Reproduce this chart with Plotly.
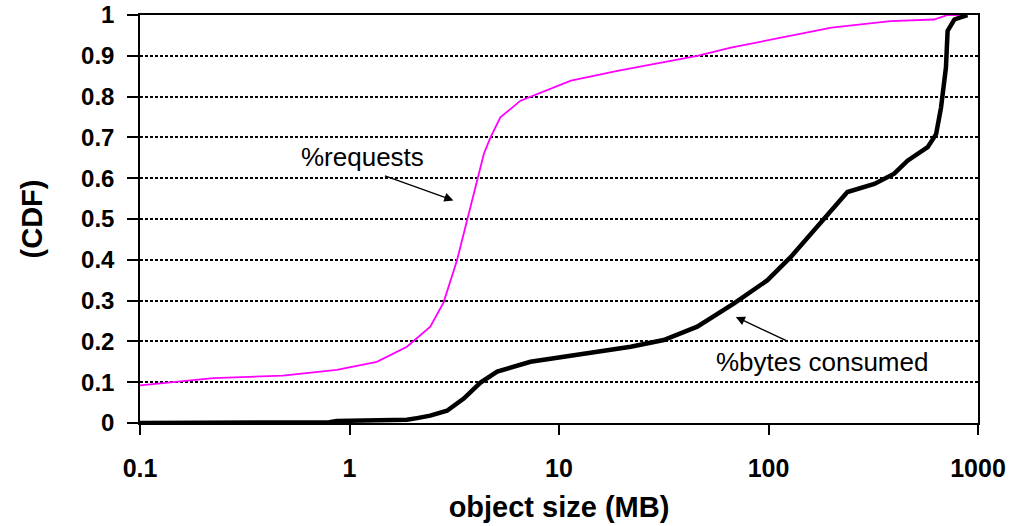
import plotly.graph_objects as go

# Data
req_x = [0.1, 0.224, 0.48, 0.87, 1.35, 1.88, 2.43, 2.81, 3.26, 3.64, 4.07, 4.38, 4.71,
         5.25, 6.55, 7.87, 11.4, 19.0, 31.7, 45.7, 66.1, 97.5, 200, 381, 617, 716, 890]
req_y = [0.092, 0.11, 0.116, 0.13, 0.15, 0.187, 0.236, 0.295, 0.399, 0.497, 0.60, 0.66, 0.70,
         0.749, 0.79, 0.806, 0.839, 0.863, 0.884, 0.90, 0.92, 0.937, 0.969, 0.985, 0.989, 1.0, 1.0]

bytes_x = [0.1, 0.8, 0.87, 1.88, 2.1, 2.43, 2.92, 3.2, 3.51, 4.22, 5.07, 7.31, 10.5, 15.2, 22.0,
           31.6, 45.7, 68.5, 98.9, 127.8, 165, 206, 238, 320, 398, 461, 575, 631, 666, 703,
           716, 771, 890]
bytes_y = [0.0, 0.002, 0.005, 0.008, 0.012, 0.018, 0.03, 0.045, 0.06, 0.099, 0.126, 0.15, 0.163,
           0.175, 0.187, 0.2035, 0.236, 0.293, 0.35, 0.407, 0.472, 0.529, 0.566, 0.586, 0.611,
           0.643, 0.676, 0.708, 0.773, 0.871, 0.961, 0.989, 1.0]

x_tickvals = [0.1, 1, 10, 100, 1000]
x_ticktext = ["0.1", "1", "10", "100", "1000"]
y_tickvals = [0, 0.1, 0.2, 0.3, 0.4, 0.5, 0.6, 0.7, 0.8, 0.9, 1]
y_ticktext = ["0", "0.1", "0.2", "0.3", "0.4", "0.5", "0.6", "0.7", "0.8", "0.9", "1"]

FONT = "Liberation Sans, Arial, sans-serif"

fig = go.Figure()
fig.add_trace(go.Scatter(x=req_x, y=req_y, mode="lines",
                         line=dict(color="#FF00FF", width=1.8), showlegend=False))
fig.add_trace(go.Scatter(x=bytes_x, y=bytes_y, mode="lines",
                         line=dict(color="black", width=4.5), showlegend=False))

fig.update_layout(
    width=1027, height=526,
    margin=dict(l=140, r=49, t=15, b=103),
    paper_bgcolor="white", plot_bgcolor="white",
    font=dict(family=FONT, color="black"),
)
fig.update_xaxes(
    type="log", range=[-1, 3],
    tickvals=x_tickvals, ticktext=x_ticktext,
    tickfont=dict(size=25, family=FONT, color="black", weight="bold"),
    ticks="outside", ticklen=10, tickwidth=1.5, tickcolor="black",
    ticklabelstandoff=12, ticklabeloverflow="allow",
    showline=True, linecolor="black", linewidth=1.5, mirror=True,
    showgrid=False, zeroline=False, automargin=False,
    title=dict(text="<b>object size (MB)</b>", font=dict(size=29, family=FONT), standoff=16),
)
fig.update_yaxes(
    range=[0, 1],
    tickvals=y_tickvals, ticktext=y_ticktext,
    tickfont=dict(size=24, family=FONT, color="black", weight="bold"),
    ticks="outside", ticklen=11, tickwidth=1.5, tickcolor="black",
    ticklabelstandoff=8, ticklabeloverflow="allow",
    showline=True, linecolor="black", linewidth=1.5, mirror=True,
    showgrid=True, gridcolor="black", gridwidth=2.2, griddash="3px,2px",
    zeroline=False, automargin=False,
    title=dict(text="<b>(CDF)</b>", font=dict(size=29, family=FONT), standoff=30),
)

# Annotations
fig.add_annotation(x=0.496, y=0.5456, xref="x", yref="y", text="", showarrow=True,
                   ax=-70, ay=-25, arrowhead=2, arrowsize=1.4, arrowwidth=1.3, arrowcolor="black")
fig.add_annotation(x=0.061, y=0.651, xref="x", yref="y", text="%requests", showarrow=False,
                   font=dict(size=26, family=FONT, color="black"))
fig.add_annotation(x=1.844, y=0.26, xref="x", yref="y", text="", showarrow=True,
                   ax=53, ay=25, arrowhead=2, arrowsize=1.4, arrowwidth=1.3, arrowcolor="black")
fig.add_annotation(x=2.257, y=0.1505, xref="x", yref="y", text="%bytes consumed", showarrow=False,
                   font=dict(size=26, family=FONT, color="black"))

# remove the browser's default 8px body margin so the figure sits at the page origin
fig.write_html("out.html", config={"displayModeBar": False},
               post_script="document.body.style.margin='0';")
